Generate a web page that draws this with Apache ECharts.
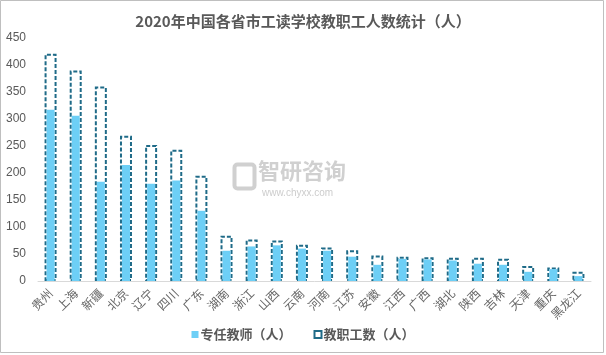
<!DOCTYPE html>
<html>
<head>
<meta charset="utf-8">
<script src="https://cdn.jsdelivr.net/npm/echarts@6/dist/echarts.min.js"></script>
<style>
  html, body { margin: 0; padding: 0; background: #fff; }
  #chart { width: 606px; height: 355px; }
</style>
</head>
<body>
<div id="chart"></div>
<script>
// 省份
var provinces = ['贵州', '上海', '新疆', '北京', '辽宁', '四川', '广东', '湖南', '浙江', '山西', '云南',
  '河南', '江苏', '安徽', '江西', '广西', '湖北', '陕西', '吉林', '天津', '重庆', '黑龙江'];
// 专任教师（人）
var teachers = [317, 306, 184, 215, 180, 186, 130, 56, 64, 66, 60, 56, 45, 30, 41, 40, 38, 32, 30, 17, 22, 9];
// 教职工数（人）
var staff = [421, 390, 360, 269, 252, 243, 195, 84, 77, 75, 67, 62, 57, 47, 45, 44, 43, 43, 41, 28, 25, 17];
var yTicks = [0, 50, 100, 150, 200, 250, 300, 350, 400, 450];

var chart = echarts.init(document.getElementById('chart'));
var gray = '#595959';
var option = {
  backgroundColor: '#fff',
  animation: false,
  title: {
    text: '2020年中国各省市工读学校教职工人数统计（人）',
    left: 'center',
    top: 9,
    textStyle: { fontFamily: 'Noto Sans CJK SC', fontSize: 15, fontWeight: 'bold', color: gray }
  },
  legend: {
    bottom: 9,
    left: 'center',
    itemWidth: 7,
    itemHeight: 7,
    itemGap: 22,
    icon: 'rect',
    textStyle: { fontFamily: 'Noto Sans CJK SC', fontSize: 13, fontWeight: 'bold', color: gray, padding: [0, 0, 0, -3] },
    data: ['专任教师（人）', '教职工数（人）']
  },
  grid: { left: 38, right: 15, top: 38, bottom: 74 },
  xAxis: [
    {
      type: 'category',
      data: provinces,
      axisLine: { lineStyle: { color: '#d9d9d9', width: 1 } },
      axisTick: { show: false },
      axisLabel: { interval: 0, rotate: 45, margin: 10, color: '#666', fontSize: 12, fontFamily: 'Noto Sans CJK SC' }
    },
    {
      type: 'category',
      data: provinces,
      show: false
    }
  ],
  yAxis: {
    type: 'value',
    min: 0,
    max: yTicks[yTicks.length - 1],
    interval: yTicks[1] - yTicks[0],
    splitLine: { show: false },
    axisLine: { show: false },
    axisTick: { show: false },
    axisLabel: { color: gray, fontSize: 12, margin: 12, fontFamily: 'Liberation Sans' }
  },
  series: [
    {
      name: '教职工数（人）',
      type: 'bar',
      xAxisIndex: 1,
      barWidth: 12,
      data: staff,
      itemStyle: {
        color: 'rgba(255,255,255,0)',
        borderColor: '#1f6b88',
        borderWidth: 2,
        borderType: [4, 2]
      }
    },
    {
      name: '专任教师（人）',
      type: 'bar',
      xAxisIndex: 0,
      barWidth: 8,
      data: teachers,
      itemStyle: { color: '#6dcff6' },
      z: 3
    }
  ],
  graphic: [
    {
      type: 'rect',
      shape: { x: 0.5, y: 0.5, width: 603, height: 352 },
      style: { fill: 'none', stroke: '#bfbfbf', lineWidth: 1 },
      silent: true
    },
    {
      type: 'text',
      left: 258,
      top: 160,
      style: { text: '智研咨询', fill: 'rgba(170,170,170,0.55)', font: 'bold 22px "Noto Sans CJK SC"' },
      silent: true
    },
    {
      type: 'text',
      left: 262,
      top: 188,
      style: { text: 'www.chyxx.com', fill: 'rgba(170,170,170,0.6)', font: '10px "Liberation Sans"' },
      silent: true
    },
    {
      type: 'rect',
      left: 232,
      top: 162,
      shape: { width: 20, height: 24, r: 3 },
      style: { fill: 'none', stroke: 'rgba(170,170,170,0.55)', lineWidth: 4 },
      silent: true
    }
  ]
};
chart.setOption(option);
</script>
</body>
</html>
